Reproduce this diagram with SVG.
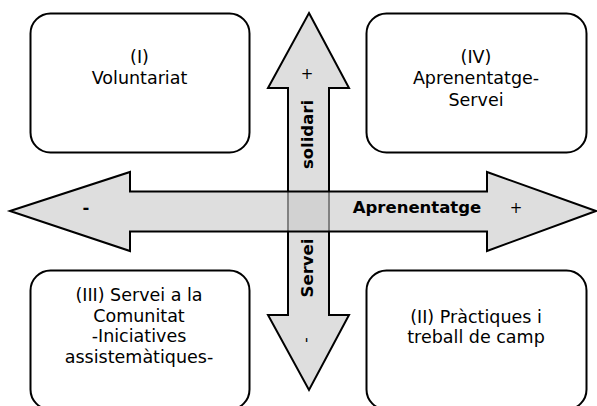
<svg xmlns="http://www.w3.org/2000/svg" width="597" height="406" viewBox="0 0 597 406">
<style>
.box{fill:#ffffff;stroke:#000000;stroke-width:2}
.t{font-family:"DejaVu Sans",Verdana,sans-serif;font-size:17.5px;fill:#000000;text-anchor:middle}
.b{font-family:"DejaVu Sans",Verdana,sans-serif;font-size:16.5px;font-weight:bold;fill:#000000;text-anchor:middle}
.s{font-family:"DejaVu Sans",Verdana,sans-serif;font-size:15px;fill:#000000;text-anchor:middle}
</style>
<rect width="597" height="406" fill="#ffffff"/>
<g id="connectors">
<polygon id="axis-vertical" points="309,13 349,88 329,88 329,315 349,315 309,390 268,315 288,315 288,88 268,88" fill="#dedede" stroke="#000000" stroke-width="2" stroke-linejoin="miter"/>
<polygon id="axis-horizontal" points="10,211 130,172 130,191.5 487,191.5 487,172 596,211 487,251 487,231.5 130,231.5 130,251" fill="#cbcbcb" fill-opacity="0.636" stroke="#000000" stroke-width="2" stroke-linejoin="miter"/>
<text class="b" transform="translate(313,134.5) rotate(-90)">solidari</text>
<text class="b" transform="translate(313,268) rotate(-90)">Servei</text>
<text class="s" x="307" y="79">+</text>
<text class="s" transform="translate(311,340) rotate(-90)">-</text>
<text class="b" x="417" y="213">Aprenentatge</text>
<text class="s" x="516" y="213">+</text>
<text class="b" x="86" y="213">-</text>
</g>
<g id="node-I">
<rect class="box" x="30.5" y="13.5" width="219" height="139" rx="20" ry="20"/>
<text class="t" x="139.5" y="63">(I)</text>
<text class="t" x="139.5" y="84">Voluntariat</text>
</g>
<g id="node-IV">
<rect class="box" x="366.5" y="13.5" width="220" height="139" rx="20" ry="20"/>
<text class="t" x="476" y="63">(IV)</text>
<text class="t" x="476" y="84">Aprenentatge-</text>
<text class="t" x="476" y="106">Servei</text>
</g>
<g id="node-III">
<rect class="box" x="30.5" y="270.5" width="219" height="139" rx="20" ry="20"/>
<text class="t" x="139" y="301">(III) Servei a la</text>
<text class="t" x="139" y="322">Comunitat</text>
<text class="t" x="139" y="342">-Iniciatives</text>
<text class="t" x="139" y="363">assistemàtiques-</text>
</g>
<g id="node-II">
<rect class="box" x="366.5" y="270.5" width="220" height="139" rx="20" ry="20"/>
<text class="t" x="476" y="323">(II) Pràctiques i</text>
<text class="t" x="476" y="343">treball de camp</text>
</g>
</svg>
